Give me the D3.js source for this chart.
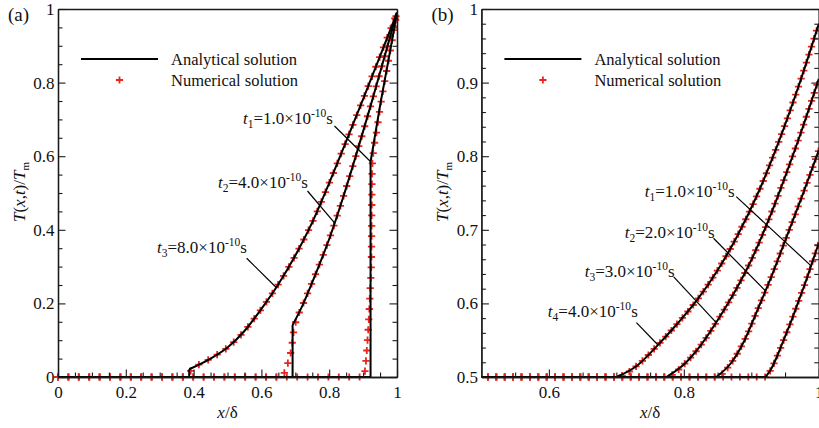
<!DOCTYPE html>
<html><head><meta charset="utf-8">
<script src="https://cdn.jsdelivr.net/npm/d3@7"></script>
<style>
body{margin:0;background:#fff;}
svg{display:block;font-family:"Liberation Serif","Times New Roman",serif;}
</style></head><body>
<svg id="c" width="819" height="428"></svg>
<script>
// ---------------- DATA ----------------
// Panel (a) ticks
const aXMajor = [0, 0.2, 0.4, 0.6, 0.8, 1];
const aXLabels = ["0", "0.2", "0.4", "0.6", "0.8", "1"];
const aXMinor = [0.05,0.1,0.15,0.25,0.3,0.35,0.45,0.5,0.55,0.65,0.7,0.75,0.85,0.9,0.95];
const aYMajor = [0, 0.2, 0.4, 0.6, 0.8, 1];
const aYLabels = ["0", "0.2", "0.4", "0.6", "0.8", "1"];
const aYMinor = [0.05,0.1,0.15,0.25,0.3,0.35,0.45,0.5,0.55,0.65,0.7,0.75,0.85,0.9,0.95];
// Panel (b) ticks
const bXMajor = [0.6, 0.8, 1];
const bXLabels = ["0.6", "0.8", "1"];
const bXMinor = [0.55,0.65,0.7,0.75,0.85,0.9,0.95];
const bYMajor = [0.5, 0.6, 0.7, 0.8, 0.9, 1];
const bYLabels = ["0.5", "0.6", "0.7", "0.8", "0.9", "1"];
const bYMinor = [0.52,0.54,0.56,0.58,0.62,0.64,0.66,0.68,0.72,0.74,0.76,0.78,0.82,0.84,0.86,0.88,0.92,0.94,0.96,0.98];

// Panel (a) analytical solution (front point first; baseline T=0 ahead of front)
const anaA_t1 = [[0.922,0.585],[0.93,0.628],[0.95,0.737],[0.975,0.862],[1,0.99]];
const anaA_t2 = [[0.692,0.141],[0.72,0.192],[0.76,0.28],[0.80,0.375],[0.84,0.485],[0.88,0.605],[0.92,0.73],[0.96,0.86],[1,0.99]];
const anaA_t3 = [[0.387,0.021],[0.45,0.05],[0.5,0.08],[0.55,0.125],[0.6,0.185],[0.65,0.252],[0.7,0.33],[0.75,0.42],[0.8,0.527],[0.85,0.64],[0.9,0.755],[0.95,0.872],[1,0.99]];
// Panel (a) numerical solution
const numA_t1 = [[0,0],[0.903,0],[0.906,0.02],[0.909,0.05],[0.913,0.10],[0.917,0.16],[0.921,0.24],[0.9245,0.32],[0.9255,0.45],[0.9265,0.56],[0.930,0.61],[0.937,0.65],[0.95,0.73],[0.975,0.86],[1,0.99]];
const numA_t2 = [[0,0],[0.66,0],[0.668,0.012],[0.677,0.035],[0.685,0.06],[0.69,0.085],[0.693,0.11],[0.698,0.137],[0.706,0.162],[0.72,0.192],[0.76,0.28],[0.80,0.375],[0.84,0.485],[0.88,0.605],[0.92,0.73],[0.96,0.86],[1,0.99]];
const numA_t3 = [[0,0],[0.372,0],[0.385,0.011],[0.40,0.024],[0.45,0.05],[0.5,0.08],[0.55,0.125],[0.6,0.185],[0.65,0.252],[0.7,0.33],[0.75,0.42],[0.8,0.527],[0.85,0.64],[0.9,0.755],[0.95,0.872],[1,0.99]];

// Panel (b) analytical solution (baseline T/Tm=0.5 ahead of front)
const anaB_t1 = [[0.921,0.5],[0.93,0.512],[0.94,0.532],[0.95,0.555],[0.96,0.578],[0.97,0.603],[0.98,0.628],[0.99,0.655],[1,0.682]];
const anaB_t2 = [[0.848,0.5],[0.87,0.519],[0.89,0.55],[0.91,0.593],[0.93,0.637],[0.95,0.685],[0.975,0.745],[1,0.808]];
const anaB_t3 = [[0.774,0.5],[0.80,0.517],[0.825,0.543],[0.85,0.577],[0.875,0.615],[0.90,0.659],[0.925,0.712],[0.95,0.772],[0.975,0.836],[1,0.905]];
const anaB_t4 = [[0.70,0.5],[0.73,0.515],[0.76,0.542],[0.79,0.572],[0.82,0.605],[0.85,0.645],[0.88,0.693],[0.91,0.75],[0.94,0.818],[0.97,0.895],[1,0.98]];
// Panel (b) numerical solution
const numB_t1 = [[0.5,0.5],[0.921,0.5],[0.93,0.512],[0.94,0.532],[0.95,0.555],[0.96,0.578],[0.97,0.603],[0.98,0.628],[0.99,0.655],[1,0.682]];
const numB_t2 = [[0.5,0.5],[0.848,0.5],[0.87,0.519],[0.89,0.55],[0.91,0.593],[0.93,0.637],[0.95,0.685],[0.975,0.745],[1,0.808]];
const numB_t3 = [[0.5,0.5],[0.774,0.5],[0.80,0.517],[0.825,0.543],[0.85,0.577],[0.875,0.615],[0.90,0.659],[0.925,0.712],[0.95,0.772],[0.975,0.836],[1,0.905]];
const numB_t4 = [[0.5,0.5],[0.70,0.5],[0.73,0.515],[0.76,0.542],[0.79,0.572],[0.82,0.605],[0.85,0.645],[0.88,0.693],[0.91,0.75],[0.94,0.818],[0.97,0.895],[1,0.98]];

// Annotations: [subscript, value, text x, text y, leader start x,y, leader end x,y] in data units
const annA = [
  ["1","1.0",0.5457,0.6875,0.8156,0.682,0.9224,0.585],
  ["2","4.0",0.472,0.5136,0.736,0.5054,0.817,0.4177],
  ["3","8.0",0.292,0.336,0.5566,0.3226,0.643,0.2438]
];
const annB = [
  ["1","1.0",0.742,0.745,0.8777,0.745,0.9886,0.651],
  ["2","2.0",0.7124,0.6889,0.844,0.6885,0.921,0.617],
  ["3","3.0",0.653,0.6363,0.785,0.636,0.847,0.575],
  ["4","4.0",0.5985,0.582,0.7297,0.5738,0.7617,0.5435]
];
const legendLabels = ["Analytical solution", "Numerical solution"];

// ---------------- DRAW ----------------
const svg = d3.select("#c");
const RED = "#e8261e";

function panel(opt) {
  const x = d3.scaleLinear().domain(opt.xd).range([opt.l, opt.r]);
  const y = d3.scaleLinear().domain(opt.yd).range([opt.b, opt.t]);
  const g = svg.append("g");
  const cid = "clip" + opt.name;
  svg.append("clipPath").attr("id", cid).append("rect")
    .attr("x", opt.l - 5).attr("y", opt.t - 5).attr("width", opt.r - opt.l + 10).attr("height", opt.b - opt.t + 10);

  // markers (numerical)
  const lineN = d3.line().x(d => x(d[0])).y(d => y(d[1])).curve(d3.curveMonotoneX);
  const mg = g.append("g").attr("clip-path", `url(#${cid})`);
  opt.num.forEach(series => {
    const p = mg.append("path").attr("d", lineN(series)).attr("fill", "none").attr("stroke", "none");
    const node = p.node();
    const L = node.getTotalLength();
    const pts = [];
    for (let s = opt.mOff; s <= L + 0.01; s += opt.mSp) {
      const q = node.getPointAtLength(Math.min(s, L));
      pts.push([q.x, q.y]);
    }
    mg.selectAll(null).data(pts).enter().append("path")
      .attr("transform", d => `translate(${d[0]},${d[1]})`)
      .attr("d", "M-3.6,0H3.6M0,-3.6V3.6")
      .attr("stroke", RED).attr("stroke-width", 1.8).attr("fill", "none");
  });

  // analytical lines
  const lineLin = d3.line().x(d => x(d[0])).y(d => y(d[1]));
  const lineC = d3.line().x(d => x(d[0])).y(d => y(d[1])).curve(d3.curveMonotoneX);
  opt.ana.forEach(series => {
    const f = series[0];
    const base = [[opt.xd[0], opt.yd[0]], [f[0], opt.yd[0]], f];
    g.append("path").attr("d", lineLin(base) + lineC(series))
      .attr("fill", "none").attr("stroke", "#000").attr("stroke-width", 2).attr("stroke-linejoin", "miter");
  });

  // axes
  const axStyle = sel => {
    sel.attr("font-family", null).attr("font-size", null);
    sel.select(".domain").attr("stroke", "#1a1a1a").attr("stroke-width", 1.3);
    sel.selectAll(".tick line").attr("stroke", "#1a1a1a").attr("stroke-width", 1.1);
    sel.selectAll(".tick text").attr("fill", "#111").style("font-size", "17px")
      .style("font-family", '"Liberation Serif","Times New Roman",serif');
  };
  const fmt = (vals, labs) => v => labs[vals.indexOf(v)];
  // bottom
  g.append("g").attr("transform", `translate(0,${opt.b})`)
    .call(d3.axisBottom(x).tickValues(opt.xMinor).tickSize(-4.5).tickSizeOuter(0).tickFormat(""))
    .call(axStyle);
  g.append("g").attr("transform", `translate(0,${opt.b})`)
    .call(d3.axisBottom(x).tickValues(opt.xMajor).tickSize(-7.5).tickSizeOuter(0).tickPadding(9).tickFormat(fmt(opt.xMajor, opt.xLabels)))
    .call(axStyle);
  // left
  g.append("g").attr("transform", `translate(${opt.l},0)`)
    .call(d3.axisLeft(y).tickValues(opt.yMinor).tickSize(-4.5).tickSizeOuter(0).tickFormat(""))
    .call(axStyle);
  g.append("g").attr("transform", `translate(${opt.l},0)`)
    .call(d3.axisLeft(y).tickValues(opt.yMajor).tickSize(-7.5).tickSizeOuter(0).tickPadding(3.5).tickFormat(fmt(opt.yMajor, opt.yLabels)))
    .call(axStyle);
  // right (mirrored ticks)
  g.append("g").attr("transform", `translate(${opt.r},0)`)
    .call(d3.axisRight(y).tickValues(opt.yMinor).tickSize(-4.5).tickSizeOuter(0).tickFormat(""))
    .call(axStyle);
  g.append("g").attr("transform", `translate(${opt.r},0)`)
    .call(d3.axisRight(y).tickValues(opt.yMajor).tickSize(-7.5).tickSizeOuter(0).tickFormat(""))
    .call(axStyle);
  // top
  g.append("g").attr("transform", `translate(0,${opt.t})`)
    .call(d3.axisTop(x).tickValues([]).tickSizeOuter(0))
    .call(axStyle);

  // axis titles
  const xt = g.append("text").attr("x", (opt.l + opt.r) / 2).attr("y", 418)
    .attr("text-anchor", "middle").attr("font-size", 17).attr("fill", "#111");
  xt.append("tspan").attr("font-style", "italic").text("x");
  xt.append("tspan").text("/δ");

  const yt = g.append("text").attr("transform", `translate(${opt.l - 33},${192}) rotate(-90)`)
    .attr("text-anchor", "middle").attr("font-size", 17).attr("fill", "#111");
  yt.append("tspan").attr("font-style", "italic").text("T");
  yt.append("tspan").text("(");
  yt.append("tspan").attr("font-style", "italic").text("x");
  yt.append("tspan").text(",");
  yt.append("tspan").attr("font-style", "italic").text("t");
  yt.append("tspan").text(")/");
  yt.append("tspan").attr("font-style", "italic").text("T");
  yt.append("tspan").attr("font-size", 11).attr("dy", 4).text("m");

  // panel label
  g.append("text").attr("x", opt.l - 50).attr("y", 21).attr("font-size", 19).attr("fill", "#111").text(opt.tag);

  // annotations
  opt.ann.forEach(a => {
    const t = g.append("text").attr("x", x(a[2])).attr("y", y(a[3])).attr("font-size", 17).attr("fill", "#111");
    t.append("tspan").attr("font-style", "italic").text("t");
    t.append("tspan").attr("font-size", 11.5).attr("dy", 4).text(a[0]);
    t.append("tspan").attr("dy", -4).text("=" + a[1] + "×10");
    t.append("tspan").attr("font-size", 11.5).attr("dy", -7).text("-10");
    t.append("tspan").attr("dy", 7).text("s");
    g.append("line").attr("x1", x(a[4])).attr("y1", y(a[5])).attr("x2", x(a[6])).attr("y2", y(a[7]))
      .attr("stroke", "#000").attr("stroke-width", 1.2);
  });

  // legend
  const lx0 = opt.l + 23, lx1 = opt.l + 100, ly = 59;
  g.append("line").attr("x1", lx0).attr("x2", lx1).attr("y1", ly).attr("y2", ly).attr("stroke", "#000").attr("stroke-width", 2);
  g.append("path").attr("transform", `translate(${(lx0 + lx1) / 2},80)`).attr("d", "M-3.6,0H3.6M0,-3.6V3.6")
    .attr("stroke", RED).attr("stroke-width", 1.8);
  g.append("text").attr("x", opt.l + 113).attr("y", 65).attr("font-size", 16.5).attr("fill", "#111").text(legendLabels[0]);
  g.append("text").attr("x", opt.l + 113).attr("y", 86).attr("font-size", 16.5).attr("fill", "#111").text(legendLabels[1]);
}

panel({name: "a", tag: "(a)", xd: [0, 1], yd: [0, 1], l: 58, r: 397, t: 9, b: 377,
  xMajor: aXMajor, xLabels: aXLabels, xMinor: aXMinor, yMajor: aYMajor, yLabels: aYLabels, yMinor: aYMinor,
  ana: [anaA_t1, anaA_t2, anaA_t3], num: [numA_t1, numA_t2, numA_t3], ann: annA, mSp: 10.4, mOff: 0});
panel({name: "b", tag: "(b)", xd: [0.5, 1], yd: [0.5, 1], l: 481.4, r: 818.8, t: 9, b: 377,
  xMajor: bXMajor, xLabels: bXLabels, xMinor: bXMinor, yMajor: bYMajor, yLabels: bYLabels, yMinor: bYMinor,
  ana: [anaB_t1, anaB_t2, anaB_t3, anaB_t4], num: [numB_t1, numB_t2, numB_t3, numB_t4], ann: annB, mSp: 8.4, mOff: 6.5});
</script>
</body></html>
